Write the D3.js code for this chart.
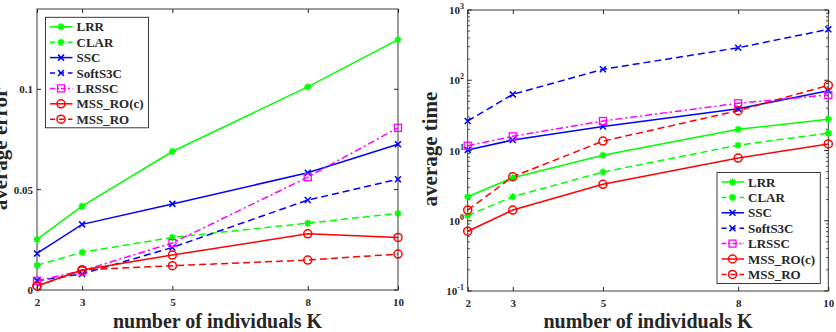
<!DOCTYPE html>
<html><head><meta charset="utf-8">
<script src="https://cdn.jsdelivr.net/npm/d3@7"></script>
<style>
body{margin:0;background:#fff;}
svg text{font-family:"Liberation Serif","Times New Roman",serif;font-weight:bold;fill:#262626;}
</style></head>
<body><svg id="c" width="836" height="332"></svg>
<script>
const K = [2, 3, 5, 8, 10];
const methods = ["LRR", "CLAR", "SSC", "SoftS3C", "LRSSC", "MSS_RO(c)", "MSS_RO"];
// average error
const errLRR     = [0.0252, 0.0418, 0.0690, 0.1012, 0.1247];
const errCLAR    = [0.0123, 0.0188, 0.0262, 0.0333, 0.0382];
const errSSC     = [0.0182, 0.0327, 0.0429, 0.0584, 0.0726];
const errSoftS3C = [0.0046, 0.0080, 0.0212, 0.0448, 0.0552];
const errLRSSC   = [0.0046, 0.0096, 0.0234, 0.0562, 0.0808];
const errMSSc    = [0.0020, 0.0100, 0.0174, 0.0280, 0.0262];
const errMSS     = [0.0020, 0.0100, 0.0121, 0.0149, 0.0179];
// average time
const tLRR     = [2.2, 4.1, 8.55, 20.0, 27.8];
const tCLAR    = [1.18, 2.2, 4.94, 11.9, 17.7];
const tSSC     = [10.2, 14.1, 21.9, 39.4, 71];
const tSoftS3C = [26.3, 63, 143, 290, 531];
const tLRSSC   = [11.7, 15.9, 26.3, 47, 61.7];
const tMSSc    = [0.71, 1.42, 3.3, 7.8, 12.4];
const tMSS     = [1.42, 4.24, 13.6, 36.9, 84.7];
const errTicks = [0, 0.05, 0.1];
const errTickLabels = ["0", "0.05", "0.1"];
const timeExp = [-1, 0, 1, 2, 3];

const errSeries = [errLRR, errCLAR, errSSC, errSoftS3C, errLRSSC, errMSSc, errMSS];
const timeSeries = [tLRR, tCLAR, tSSC, tSoftS3C, tLRSSC, tMSSc, tMSS];

const styles = [
  {color:"#00ff00", dash:null, marker:"star"},
  {color:"#00ff00", dash:"7,4", marker:"star"},
  {color:"#0000ff", dash:null, marker:"x"},
  {color:"#0000ff", dash:"7,4", marker:"x"},
  {color:"#ff00ff", dash:"7,3,2,3", marker:"square"},
  {color:"#ff0000", dash:null, marker:"circle"},
  {color:"#ff0000", dash:"7,4", marker:"circle"}
];
const AX = "#262626";
const svg = d3.select("#c");

function drawMarker(g, type, x, y, color) {
  if (type === "circle") {
    g.append("circle").attr("cx", x).attr("cy", y).attr("r", 4)
      .attr("fill", "none").attr("stroke", color).attr("stroke-width", 1.5);
  } else if (type === "square") {
    g.append("rect").attr("x", x - 3.5).attr("y", y - 3.5).attr("width", 7).attr("height", 7)
      .attr("fill", "none").attr("stroke", color).attr("stroke-width", 1.3);
  } else if (type === "x") {
    const s = 3;
    g.append("path").attr("d", `M${x-s},${y-s}L${x+s},${y+s}M${x-s},${y+s}L${x+s},${y-s}`)
      .attr("stroke", color).attr("stroke-width", 1.5);
  } else {
    const s = 3.5, d = 2.5;
    g.append("path").attr("d", `M${x-s},${y}L${x+s},${y}M${x},${y-s}L${x},${y+s}M${x-d},${y-d}L${x+d},${y+d}M${x-d},${y+d}L${x+d},${y-d}`)
      .attr("stroke", color).attr("stroke-width", 1.6);
    g.append("circle").attr("cx", x).attr("cy", y).attr("r", 2).attr("fill", color);
  }
}

function panel(x, y, series, opts) {
  const g = svg.append("g");
  const [x0, x1] = x.range(), [y0, y1] = y.range();
  g.append("rect").attr("x", x0).attr("y", y1).attr("width", x1 - x0).attr("height", y0 - y1)
    .attr("fill", "#fff").attr("stroke", AX).attr("stroke-width", 0.9);
  const bx = g.append("g").attr("transform", `translate(0,${y0})`)
    .call(d3.axisBottom(x).tickValues(K).tickSize(-4).tickPadding(8).tickFormat(d3.format("d")));
  bx.select(".domain").remove();
  bx.selectAll("line").attr("stroke", AX);
  bx.selectAll("text").attr("font-size", 11).attr("fill", AX).style("font-family", "Liberation Serif").style("font-weight", "bold");
  const tx = g.append("g").attr("transform", `translate(0,${y1})`)
    .call(d3.axisTop(x).tickValues(K).tickSize(-4).tickFormat(""));
  tx.select(".domain").remove();
  tx.selectAll("line").attr("stroke", AX);
  opts.yAxis(g);
  const line = d3.line().x((d, i) => x(K[i])).y(d => y(d));
  series.forEach((s, i) => {
    const st = styles[i];
    g.append("path").datum(s).attr("d", line).attr("fill", "none")
      .attr("stroke", st.color).attr("stroke-width", 1.5)
      .attr("stroke-dasharray", st.dash);
  });
  series.forEach((s, i) => {
    const mg = g.append("g");
    s.forEach((v, j) => drawMarker(mg, styles[i].marker, x(K[j]), y(v), styles[i].color));
  });
  const L = opts.legend;
  const lg = g.append("g");
  lg.append("rect").attr("x", L.x).attr("y", L.y).attr("width", L.w).attr("height", L.h)
    .attr("fill", "#fff").attr("stroke", AX).attr("stroke-width", 0.9);
  methods.forEach((m, i) => {
    const yy = L.y + 9.5 + i * 15.4;
    const st = styles[i];
    lg.append("line").attr("x1", L.x + 4.5).attr("x2", L.x + 27).attr("y1", yy).attr("y2", yy)
      .attr("stroke", st.color).attr("stroke-width", 1.5).attr("stroke-dasharray", st.dash ? (st.dash === "7,4" ? "5,4" : "5,2,2,2") : null);
    drawMarker(lg, st.marker, L.x + 15.5, yy, st.color);
    lg.append("text").attr("x", L.x + 31).attr("y", yy + 4.5).attr("font-size", 13).text(m);
  });
  g.append("text").attr("x", (x0 + x1) / 2).attr("y", 327.5).attr("text-anchor", "middle")
    .attr("font-size", 20).text("number of individuals K");
  g.append("text").attr("transform", `translate(${opts.ylabX},149) rotate(-90)`).attr("text-anchor", "middle")
    .attr("font-size", 21).text(opts.ylabel);
}

// left panel
const xL = d3.scaleLinear().domain([2, 10]).range([37, 398]);
const yL = d3.scaleLinear().domain([0, 0.14]).range([290, 9]);
panel(xL, yL, errSeries, {
  ylabel: "average error", ylabX: 6.5,
  legend: {x: 45.5, y: 17.3, w: 103, h: 110.5},
  yAxis: g => {
    errTicks.forEach((t, i) => {
      g.append("line").attr("x1", 37).attr("x2", 41).attr("y1", yL(t)).attr("y2", yL(t)).attr("stroke", AX);
      g.append("line").attr("x1", 398).attr("x2", 394).attr("y1", yL(t)).attr("y2", yL(t)).attr("stroke", AX);
      g.append("text").attr("x", 33).attr("y", yL(t) + 4).attr("text-anchor", "end")
        .attr("font-size", 11).text(errTickLabels[i]);
    });
  }
});

// right panel
const xR = d3.scaleLinear().domain([2, 10]).range([467.7, 828.3]);
const yR = d3.scaleLog().domain([0.1, 1000]).range([291, 10]);
panel(xR, yR, timeSeries, {
  ylabel: "average time", ylabX: 436.5,
  legend: {x: 717, y: 172.5, w: 103.3, h: 111},
  yAxis: g => {
    timeExp.forEach(e => {
      const v = Math.pow(10, e), yy = yR(v);
      g.append("line").attr("x1", 467.7).attr("x2", 471.7).attr("y1", yy).attr("y2", yy).attr("stroke", AX);
      g.append("line").attr("x1", 828.3).attr("x2", 824.3).attr("y1", yy).attr("y2", yy).attr("stroke", AX);
      const t = g.append("text").attr("x", 464).attr("y", yy + 4).attr("text-anchor", "end").attr("font-size", 11);
      t.append("tspan").text("10");
      t.append("tspan").attr("dy", -5).attr("font-size", 8).text(e);
      if (e < 3) {
        for (let m = 2; m <= 9; m++) {
          const ym = yR(m * v);
          g.append("line").attr("x1", 467.7).attr("x2", 470).attr("y1", ym).attr("y2", ym).attr("stroke", AX).attr("stroke-width", 0.8);
          g.append("line").attr("x1", 828.3).attr("x2", 826).attr("y1", ym).attr("y2", ym).attr("stroke", AX).attr("stroke-width", 0.8);
        }
      }
    });
  }
});
</script></body></html>
